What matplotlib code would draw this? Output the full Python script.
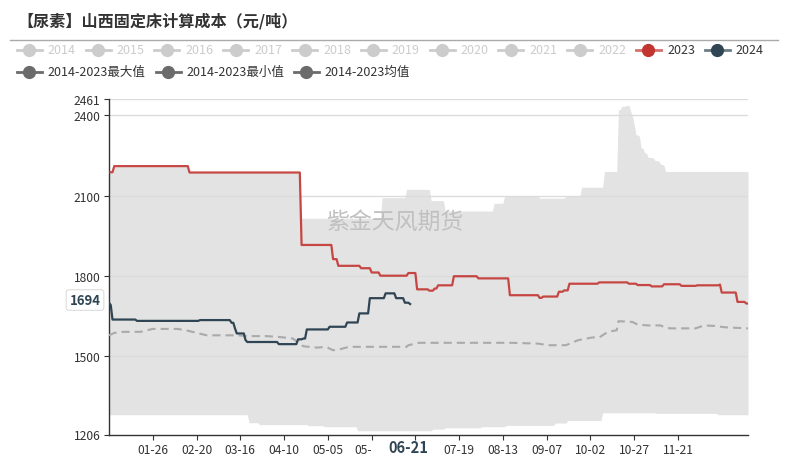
import numpy as np
import matplotlib
matplotlib.use("Agg")
import matplotlib.pyplot as plt
from matplotlib.lines import Line2D

plt.rcParams['font.family'] = ['Noto Sans CJK SC', 'DejaVu Sans']

W, H = 789, 460

title = "【尿素】山西固定床计算成本（元/吨）"
watermark = "紫金天风期货"

# x axis: day of year, 0 = 01-01 (leap year, 0..365)
tick_days = [25, 50, 75, 100, 125, 150, 175, 200, 225, 250, 275, 300, 325]
# the 05-30 / 06-24 labels sit under the current-date marker and show only in part
tick_labels = ["01-26", "02-20", "03-16", "04-10", "05-05", "05-", "",
               "07-19", "08-13", "09-07", "10-02", "10-27", "11-21"]
y_ticks = [1206, 1500, 1800, 2100, 2400, 2461]
y_min, y_max = 1206, 2461
current_day, current_label = 172, "06-21"

# daily series stored as change points: each value holds from its day on
y2023_days = [0, 3, 46, 110, 128, 131, 144, 150, 155, 171, 176, 183, 186, 188, 197,
              211, 229, 246, 248, 257, 260, 263, 280, 297, 302, 310, 317, 327, 336,
              349, 350, 359, 364]
y2023_vals = [2187, 2210, 2186, 1915, 1862, 1837, 1828, 1812, 1800, 1810, 1749, 1744,
              1752, 1764, 1798, 1790, 1727, 1717, 1722, 1740, 1745, 1770, 1775, 1770,
              1765, 1760, 1768, 1762, 1764, 1767, 1737, 1702, 1696]

y2024_days = [0, 1, 2, 16, 52, 70, 72, 73, 78, 79, 97, 108, 111, 113, 126, 136, 143,
              149, 158, 164, 169, 172]
y2024_vals = [1699, 1690, 1636, 1631, 1634, 1624, 1602, 1584, 1559, 1552, 1544, 1562,
              1565, 1599, 1609, 1625, 1659, 1716, 1734, 1716, 1699, 1694]

max_days = [0, 3, 46, 110, 156, 170, 184, 192, 220, 226, 246, 261, 270, 283, 291, 293,
            296, 298, 299, 300, 301, 303, 304, 306, 308, 311, 312, 315, 317, 318]
max_vals = [2187, 2210, 2186, 2015, 2092, 2123, 2081, 2042, 2071, 2100, 2090, 2100,
            2131, 2190, 2421, 2434, 2437, 2415, 2396, 2365, 2327, 2321, 2277, 2259,
            2242, 2240, 2230, 2217, 2212, 2190]

min_days = [0, 80, 86, 114, 123, 142, 185, 192, 213, 227, 255, 262, 282, 313, 348]
min_vals = [1280, 1250, 1243, 1239, 1235, 1220, 1226, 1231, 1235, 1240, 1249, 1258,
            1287, 1285, 1280]

# 2014-2023 average, drawn as a plain polyline
mean_days = [0, 3, 8, 18, 25, 39, 44, 50, 56, 73, 80, 90, 97, 105, 111, 119, 124, 128,
             132, 137, 170, 171, 177, 230, 245, 251, 261, 268, 276, 280, 285, 290, 291,
             299, 302, 308, 315, 318, 321, 335, 340, 346, 352, 365]
mean_vals = [1577, 1586, 1590, 1590, 1601, 1601, 1596, 1586, 1577, 1577, 1574, 1574,
             1571, 1565, 1536, 1531, 1534, 1521, 1525, 1534, 1534, 1540, 1549, 1549,
             1546, 1540, 1540, 1559, 1569, 1569, 1590, 1596, 1630, 1627, 1617, 1614,
             1614, 1605, 1603, 1603, 1614, 1612, 1607, 1603]

legend_row1 = ["2014", "2015", "2016", "2017", "2018", "2019", "2020", "2021", "2022",
               "2023", "2024"]
legend_row2 = ["2014-2023最大值", "2014-2023最小值", "2014-2023均值"]

RED = "#c23531"
NAVY = "#2f4554"
GREY_OFF = "#cccccc"
BAND = "#e3e3e3"


def px(x, y):
    """pixel position (from top-left) -> figure fraction"""
    return x / W, 1 - y / H


def daily(days, vals, last_day):
    """expand change points into one value per day (value held until next change)"""
    d = np.arange(0, last_day + 1)
    idx = np.searchsorted(np.asarray(days), d, side="right") - 1
    return d, np.asarray(vals, dtype=float)[idx]


fig = plt.figure(figsize=(W / 100, H / 100), dpi=100)
fig.patch.set_facecolor("white")

left, right, top, bottom = 109, 748, 100, 435.5
ax = fig.add_axes([left / W, (H - bottom) / H, (right - left) / W, (bottom - top) / H])
ax.set_xlim(0, 365)
ax.set_ylim(y_min, y_max)

# min-max band
d_all, hi = daily(max_days, max_vals, 365)
_, lo = daily(min_days, min_vals, 365)
ax.fill_between(d_all, lo, hi, color=BAND, lw=0, zorder=1)

# grid
for v in y_ticks[1:]:
    ax.axhline(v, color="#dcdcdc", lw=1, zorder=1.5)

ax.text(0.447, 0.637, watermark, transform=ax.transAxes, ha="center", va="center",
        fontsize=16.5, color="#c0c0c0", zorder=2)

ax.plot(mean_days, mean_vals, color="#aaaaaa", lw=1.5,
        linestyle=(0, (3.9, 2.4)), zorder=3)
d23, v23 = daily(y2023_days, y2023_vals, 365)
ax.plot(d23, v23, color=RED, lw=1.6, alpha=0.9, zorder=4)
d24, v24 = daily(y2024_days, y2024_vals, current_day)
ax.plot(d24, v24, color=NAVY, lw=1.6, zorder=5)

for s in ("top", "right"):
    ax.spines[s].set_visible(False)
for s in ("left", "bottom"):
    ax.spines[s].set_color("#333333")
    ax.spines[s].set_linewidth(1)

ax.set_yticks(y_ticks)
ax.set_yticklabels([str(v) for v in y_ticks])
ax.set_xticks(tick_days)
ax.set_xticklabels(tick_labels)
ax.tick_params(axis="both", direction="out", length=3.6, width=0.8, color="#333333",
               labelsize=8.7, labelcolor="#333333")
ax.tick_params(axis="y", pad=2.5)
ax.tick_params(axis="x", pad=2.5)
# the clipped 05-30 label keeps its left part only
ax.get_xticklabels()[5].set_horizontalalignment("right")

# current-date pointer label on the x axis
x_cur = left + (right - left) * current_day / 365
fig.text(*px(x_cur - 2, 448.5), current_label, ha="center", va="center",
         fontsize=10.5, fontweight="bold", color=NAVY, zorder=6)

# latest value label on the y axis
last_val = y2024_vals[-1]
y_last = bottom - (bottom - top) * (last_val - y_min) / (y_max - y_min)
fig.text(*px(85, y_last - 4), str(last_val), ha="center", va="center",
         fontsize=9.5, fontweight="bold", color=NAVY, zorder=6,
         bbox=dict(boxstyle="round,pad=0.25,rounding_size=0.2", facecolor="white",
                   edgecolor="#dddddd", linewidth=0.8))

# title and rule
fig.text(*px(17, 21.5), title, ha="left", va="center", fontsize=11.6,
         fontweight="bold", color="#333333")
fig.add_artist(Line2D([10 / W, 778 / W], [1 - 40.5 / H, 1 - 40.5 / H],
                      transform=fig.transFigure, color="#aaaaaa", lw=1))


def legend_item(x_marker, y, label, color, text_color, line_alpha=1.0):
    fig.add_artist(Line2D([(x_marker - 12.5) / W, (x_marker + 12.5) / W],
                          [1 - y / H, 1 - y / H], transform=fig.transFigure,
                          color=color, lw=2, alpha=line_alpha))
    fig.add_artist(Line2D([x_marker / W], [1 - y / H], transform=fig.transFigure,
                          marker="o", markersize=8.5, color=color, lw=0))
    fig.text(*px(x_marker + 18.5, y), label, ha="left", va="center", fontsize=9,
             color=text_color)


row1_colors = [GREY_OFF] * 9 + [RED, NAVY]
for i, (lab, col) in enumerate(zip(legend_row1, row1_colors)):
    active = col != GREY_OFF
    legend_item(29.3 + i * 68.8, 51, lab, col, "#333333" if active else GREY_OFF,
                line_alpha=0.7 if active else 1.0)

row2_markers = [29.3, 168.3, 306]
for xm, lab in zip(row2_markers, legend_row2):
    legend_item(xm, 72.5, lab, "#6b6b6b", "#333333")

fig.savefig("out.png", dpi=100, facecolor="white")
